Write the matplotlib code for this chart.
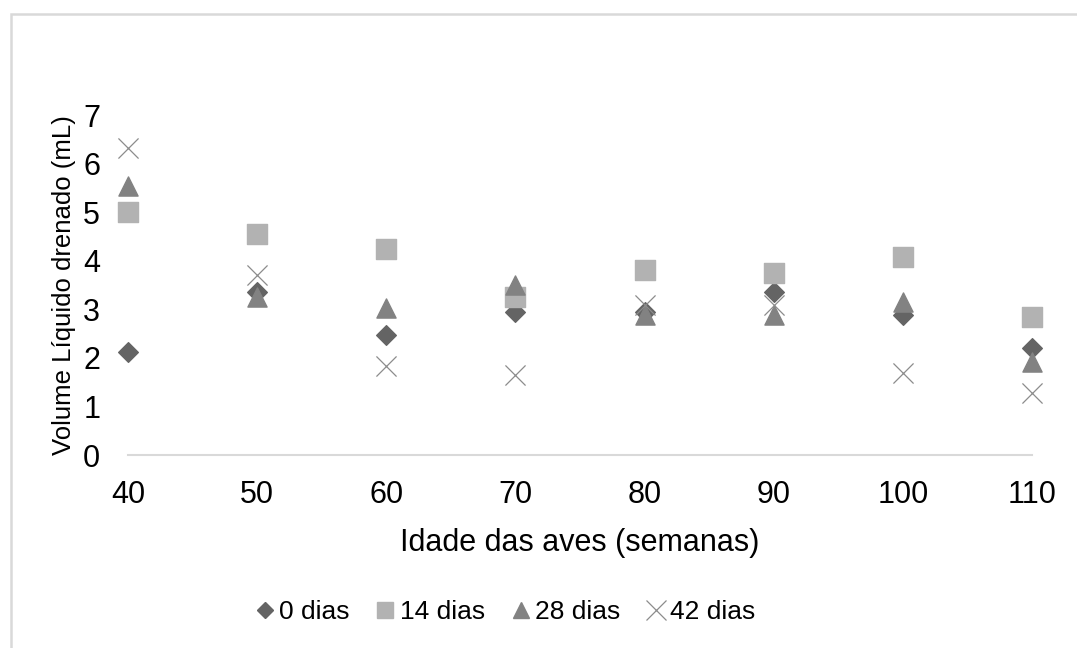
import matplotlib.pyplot as plt
from matplotlib.lines import Line2D
from matplotlib.patches import Rectangle

plt.rcParams['font.family'] = ['Liberation Sans', 'DejaVu Sans']

idade = [40, 50, 60, 70, 80, 90, 100, 110]
dias_0 = [2.12, 3.35, 2.47, 2.95, 2.95, 3.35, 2.88, 2.20]
dias_14 = [5.00, 4.55, 4.24, 3.25, 3.80, 3.75, 4.07, 2.84]
dias_28 = [5.53, 3.25, 3.02, 3.50, 2.88, 2.88, 3.15, 1.92]
dias_42 = [6.32, 3.70, 1.83, 1.65, 3.08, 3.08, 1.68, 1.27]

fig = plt.figure(figsize=(10.77, 6.48), dpi=100)
ax = fig.add_axes([0.1188, 0.2978, 0.8394, 0.5247])

ax.scatter(idade, dias_0, marker='D', s=100, color='#646464', zorder=3, clip_on=False)
ax.scatter(idade, dias_14, marker='s', s=190, color='#b2b2b2', zorder=3, clip_on=False)
ax.scatter(idade, dias_28, marker='^', s=190, color='#828282', zorder=3, clip_on=False)
ax.scatter(idade, dias_42, marker='x', s=210, color='#8c8c8c', linewidths=0.9,
           zorder=3, clip_on=False)

ax.set_xlim(40, 110)
ax.set_ylim(0, 7)
ax.set_xticks(idade)
ax.set_yticks(range(0, 8))
for s in ['top', 'right', 'left']:
    ax.spines[s].set_visible(False)
ax.spines['bottom'].set_color('#d9d9d9')
ax.spines['bottom'].set_linewidth(1.5)
ax.tick_params(length=0, labelsize=22)
ax.tick_params(axis='x', pad=18)
ax.tick_params(axis='y', pad=20)
ax.set_xlabel('Idade das aves (semanas)', fontsize=22)
ax.set_ylabel('Volume Líquido drenado (mL)', fontsize=18.5)
ax.xaxis.set_label_coords(0.5, -0.215)
ax.yaxis.set_label_coords(-0.058, 0.5)

handles = [
    Line2D([], [], marker='D', ls='', color='#646464', markersize=8.5),
    Line2D([], [], marker='s', ls='', color='#b2b2b2', markersize=11),
    Line2D([], [], marker='^', ls='', color='#828282', markersize=11),
    Line2D([], [], marker='x', ls='', color='#8c8c8c', markersize=14, markeredgewidth=0.9),
]
fig.legend(handles, ['0 dias', '14 dias', '28 dias', '42 dias'], loc='center',
           bbox_to_anchor=(0.467, 0.055), ncol=4, frameon=False, fontsize=19,
           handletextpad=0.0, columnspacing=0.8, handlelength=1.1)

fig.patches.append(Rectangle((11 / 1077, -0.1), 1.2, 1.1 - 14 / 648, transform=fig.transFigure,
                             fill=False, edgecolor='#d9d9d9', linewidth=1.8))

fig.savefig('out.png', dpi=100)
